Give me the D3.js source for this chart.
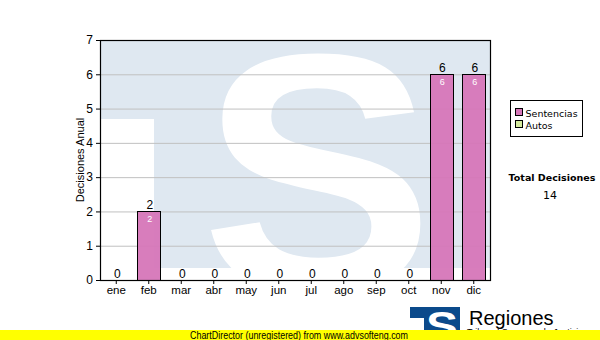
<!DOCTYPE html>
<html lang="es">
<head>
  <meta charset="UTF-8">
  <title>Decisiones Anual</title>
  <script src="https://cdnjs.cloudflare.com/ajax/libs/d3/7.8.5/d3.min.js"></script>
  <style>
    body { margin: 0; background: #fff; }
    text { font-family: "Liberation Sans", Arial, sans-serif; }
  </style>
</head>
<body>
<script>
// data
var months = ["ene", "feb", "mar", "abr", "may", "jun", "jul", "ago", "sep", "oct", "nov", "dic"];
var sentencias = [0, 2, 0, 0, 0, 0, 0, 0, 0, 0, 6, 6];
var autos = [0, 0, 0, 0, 0, 0, 0, 0, 0, 0, 0, 0];
var yTicks = [0, 1, 2, 3, 4, 5, 6, 7];
var seriesNames = ["Sentencias", "Autos"];
var totalLabel = "Total Decisiones";

var pink = "#d676b8",
    green = "#d6eca0",
    paleBlue = "#dfe8f1";

var width = 600, height = 340;
var plot = {left: 100, right: 490, top: 40, bottom: 280};

var svg = d3.select("body").append("svg")
    .attr("width", width)
    .attr("height", height);

var x = d3.scaleBand()
    .domain(months)
    .range([plot.left, plot.right])
    .paddingInner(0.29)
    .paddingOuter(0.145);

var y = d3.scaleLinear()
    .domain([0, 7])
    .range([plot.bottom, plot.top]);

// stacked table
var table = months.map(function(m, i) {
  return {month: m, Sentencias: sentencias[i], Autos: autos[i]};
});
var stacked = d3.stack().keys(seriesNames)(table);

// watermark background
svg.append("clipPath").attr("id", "plotclip")
  .append("rect")
    .attr("x", plot.left).attr("y", plot.top)
    .attr("width", plot.right - plot.left).attr("height", plot.bottom - plot.top);

var wm = svg.append("g").attr("clip-path", "url(#plotclip)");
wm.append("rect")
    .attr("x", plot.left).attr("y", plot.top)
    .attr("width", plot.right - plot.left).attr("height", 228)
    .attr("fill", paleBlue);
wm.append("rect") // left part under the T bar
    .attr("x", plot.left).attr("y", 119)
    .attr("width", 54).attr("height", 170)
    .attr("fill", "#fff");
wm.append("text")
    .attr("x", 201).attr("y", 291)
    .attr("textLength", 233)
    .attr("lengthAdjust", "spacingAndGlyphs")
    .style("font-family", "'Liberation Sans', Arial, sans-serif")
    .style("font-weight", "bold")
    .style("font-size", "340px")
    .attr("fill", "#fff")
    .text("S");

// gridlines
svg.append("g").selectAll("line")
    .data(yTicks.slice(1, -1))
  .enter().append("line")
    .attr("x1", plot.left).attr("x2", plot.right)
    .attr("y1", function(d) { return y(d) + 0.5; })
    .attr("y2", function(d) { return y(d) + 0.5; })
    .attr("stroke", "#c0c0c0");

// bars
var colors = {Sentencias: pink, Autos: green};
stacked.forEach(function(s) {
  svg.append("g").selectAll("rect")
      .data(s.filter(function(d) { return d[1] - d[0] > 0; }))
    .enter().append("rect")
      .attr("x", function(d) { return Math.round(x(d.data.month)) + 0.5; })
      .attr("y", function(d) { return Math.round(y(d[1])) + 0.5; })
      .attr("width", Math.round(x.bandwidth()))
      .attr("height", function(d) { return Math.round(y(d[0])) - Math.round(y(d[1])); })
      .attr("fill", colors[s.key])
      .attr("fill-opacity", 0.95)
      .attr("stroke", "#000");

  // segment label inside
  svg.append("g").selectAll("text")
      .data(s.filter(function(d) { return d[1] - d[0] > 0; }))
    .enter().append("text")
      .attr("x", function(d) { return x(d.data.month) + x.bandwidth() / 2 + 1; })
      .attr("y", function(d) { return y(d[1]) + 11; })
      .attr("text-anchor", "middle")
      .attr("fill", "#fff")
      .style("font-size", "9px")
      .text(function(d) { return d[1] - d[0]; });
});

// totals above bars
svg.append("g").selectAll("text")
    .data(table)
  .enter().append("text")
    .attr("x", function(d) { return x(d.month) + x.bandwidth() / 2 + 1; })
    .attr("y", function(d) { return y(d.Sentencias + d.Autos) - 2; })
    .attr("text-anchor", "middle")
    .attr("fill", "#000")
    .style("font-size", "12px")
    .text(function(d) { return d.Sentencias + d.Autos; });

// axes
var yAxis = svg.append("g")
    .attr("transform", "translate(" + plot.left + ",0)")
    .call(d3.axisLeft(y).tickValues(yTicks).tickSize(4).tickPadding(3).tickFormat(d3.format("d")));
yAxis.selectAll("text").style("font-size", "12px").attr("fill", "#000");

var xAxis = svg.append("g")
    .attr("transform", "translate(0," + plot.bottom + ")")
    .call(d3.axisBottom(x).tickSize(4).tickPadding(2).tickSizeOuter(0));
xAxis.selectAll("text").style("font-size", "11.5px").attr("fill", "#000");
xAxis.select(".domain").remove();
yAxis.select(".domain").remove();

// frame
svg.append("rect")
    .attr("x", plot.left + 0.5).attr("y", plot.top + 0.5)
    .attr("width", plot.right - plot.left).attr("height", plot.bottom - plot.top)
    .attr("fill", "none")
    .attr("stroke", "#000")
    .attr("stroke-width", 1.2);

// y title
svg.append("text")
    .attr("transform", "translate(84," + (plot.top + plot.bottom) / 2 + ") rotate(-90)")
    .attr("text-anchor", "middle")
    .style("font-size", "11px")
    .text("Decisiones Anual");

// legend
var legend = svg.append("g").attr("transform", "translate(510.5,100.5)");
legend.append("rect")
    .attr("width", 72).attr("height", 36)
    .attr("fill", "#fff").attr("stroke", "#000");
seriesNames.forEach(function(name, i) {
  legend.append("rect")
      .attr("x", 5).attr("y", 8 + i * 12)
      .attr("width", 7).attr("height", 7)
      .attr("fill", colors[name]).attr("stroke", "#000");
  legend.append("text")
      .attr("x", 15).attr("y", 16 + i * 12)
      .style("font-family", "'DejaVu Sans', sans-serif")
      .style("font-size", "9.5px")
      .text(name);
});

// total
svg.append("text")
    .attr("x", 552).attr("y", 181)
    .attr("text-anchor", "middle")
    .style("font-family", "'DejaVu Sans', sans-serif")
    .style("font-weight", "bold")
    .style("font-size", "9.5px")
    .text(totalLabel);
svg.append("text")
    .attr("x", 550).attr("y", 199)
    .attr("text-anchor", "middle")
    .style("font-family", "'DejaVu Sans', sans-serif")
    .style("font-size", "11px")
    .text(d3.sum(sentencias) + d3.sum(autos));

// logo
var logo = svg.append("g");
logo.append("rect")
    .attr("x", 410).attr("y", 307).attr("width", 50).attr("height", 28)
    .attr("fill", "#0b4a8b");
logo.append("rect")
    .attr("x", 410).attr("y", 318).attr("width", 14).attr("height", 17)
    .attr("fill", "#fff");
logo.append("text")
    .attr("x", 426).attr("y", 340)
    .attr("textLength", 32)
    .attr("lengthAdjust", "spacingAndGlyphs")
    .style("font-family", "'Liberation Sans', Arial, sans-serif")
    .style("font-weight", "bold")
    .style("font-size", "40px")
    .attr("fill", "#fff")
    .text("S");
logo.append("text")
    .attr("x", 469).attr("y", 325)
    .style("font-size", "20px")
    .text("Regiones");
logo.append("text")
    .attr("x", 467).attr("y", 335)
    .style("font-size", "9px")
    .text("Tribunal Supremo de Justicia");

// footer
svg.append("rect")
    .attr("x", 0).attr("y", 330).attr("width", width).attr("height", 10)
    .attr("fill", "#ffff00");
svg.append("text")
    .attr("x", 190).attr("y", 338.5)
    .attr("textLength", 218)
    .attr("lengthAdjust", "spacingAndGlyphs")
    .style("font-size", "10px")
    .text("ChartDirector (unregistered) from www.advsofteng.com");
</script>
</body>
</html>
